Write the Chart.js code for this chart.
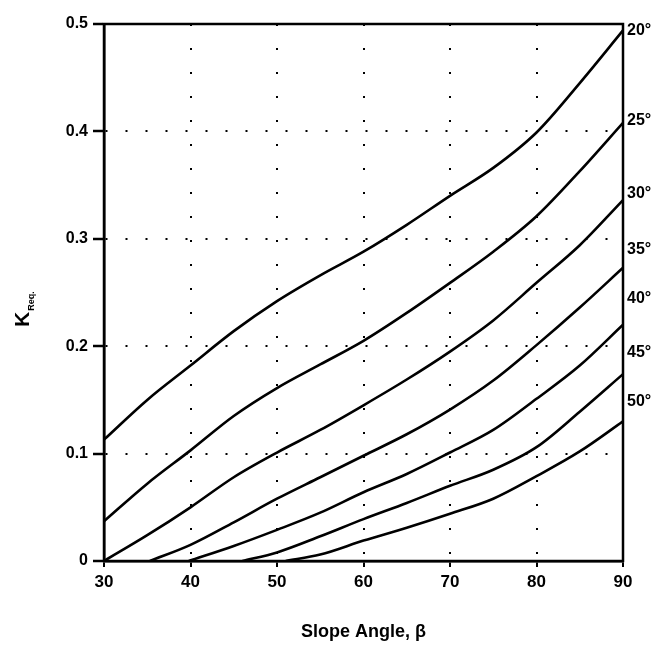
<!DOCTYPE html>
<html>
<head>
<meta charset="utf-8">
<script src="https://cdn.jsdelivr.net/npm/chart.js@4"></script>
<style>
  html, body { margin: 0; padding: 0; background: #fff; }
  #wrap { width: 663px; height: 649px; }
</style>
</head>
<body>
<div id="wrap"><canvas id="chart" width="663" height="649"></canvas></div>
<script>
// Friction angle of each curve
const frictionAngles = [20, 25, 30, 35, 40, 45, 50]

// Slope angle (x) for the curves that start on the left axis
const slopeAngles = [30, 35, 40, 45, 50, 55, 60, 65, 70, 75, 80, 85, 90]
const kReq20 = [0.113, 0.150, 0.182, 0.214, 0.242, 0.266, 0.288, 0.313, 0.340, 0.366, 0.399, 0.445, 0.494]
const kReq25 = [0.037, 0.072, 0.103, 0.135, 0.161, 0.183, 0.205, 0.231, 0.259, 0.288, 0.321, 0.363, 0.408]
const kReq30 = [0.000, 0.024, 0.050, 0.078, 0.101, 0.122, 0.145, 0.169, 0.195, 0.224, 0.259, 0.294, 0.336]

// Curves that start further along the bottom axis
const angles35 = [35.3, 40, 45, 50, 55, 60, 65, 70, 75, 80, 85, 90]
const kReq35 = [0.000, 0.015, 0.036, 0.058, 0.078, 0.098, 0.118, 0.141, 0.168, 0.201, 0.236, 0.273]
const angles40 = [39.8, 45, 50, 55, 60, 65, 70, 75, 80, 85, 90]
const kReq40 = [0.000, 0.014, 0.029, 0.045, 0.064, 0.081, 0.101, 0.122, 0.151, 0.182, 0.220]
const angles45 = [46, 50, 55, 60, 65, 70, 75, 80, 85, 90]
const kReq45 = [0.000, 0.008, 0.023, 0.039, 0.054, 0.070, 0.085, 0.106, 0.139, 0.174]
const angles50 = [51, 55, 60, 65, 70, 75, 80, 85, 90]
const kReq50 = [0.000, 0.006, 0.019, 0.031, 0.044, 0.058, 0.079, 0.102, 0.130]

// Height (K) of each curve label on the right edge
const labelK = [0.494, 0.410, 0.342, 0.290, 0.244, 0.194, 0.148]

const FONT = '"Liberation Sans", Arial, sans-serif'

const toPoints = (xs, ys) => xs.map((x, i) => ({ x: x, y: ys[i] }))

const curves = [
  toPoints(slopeAngles, kReq20),
  toPoints(slopeAngles, kReq25),
  toPoints(slopeAngles, kReq30),
  toPoints(angles35, kReq35),
  toPoints(angles40, kReq40),
  toPoints(angles45, kReq45),
  toPoints(angles50, kReq50)
]

// frame, curve labels and the K_Req. title
const extras = {
  id: 'extras',
  afterDatasetsDraw(chart) {
    const { ctx, chartArea: a, scales: { y } } = chart
    ctx.save()
    ctx.strokeStyle = '#000'
    ctx.lineWidth = 2.5
    ctx.strokeRect(a.left, a.top, a.width, a.height)

    ctx.fillStyle = '#000'
    ctx.font = 'bold 16px ' + FONT
    ctx.textAlign = 'left'
    ctx.textBaseline = 'middle'
    frictionAngles.forEach((f, i) => {
      ctx.fillText(f + '°', a.right + 4, y.getPixelForValue(labelK[i]))
    })

    // rotated y title with subscript
    ctx.translate(29, 327)
    ctx.rotate(-Math.PI / 2)
    ctx.textBaseline = 'alphabetic'
    ctx.font = 'bold 21px ' + FONT
    ctx.fillText('K', 0, 0)
    const kw = ctx.measureText('K').width
    ctx.font = 'bold 9px ' + FONT
    ctx.fillText('Req.', kw + 1, 5)
    ctx.restore()
  }
}

new Chart(document.getElementById('chart'), {
  type: 'line',
  data: {
    datasets: curves.map((pts, i) => ({
      label: frictionAngles[i] + '°',
      data: pts,
      borderColor: '#000',
      borderWidth: 2.6,
      pointRadius: 0,
      fill: false,
      cubicInterpolationMode: 'monotone'
    }))
  },
  options: {
    responsive: false,
    animation: false,
    layout: { padding: { top: 24, right: 40, left: 0, bottom: 6 } },
    plugins: {
      legend: { display: false },
      tooltip: { enabled: false }
    },
    scales: {
      x: {
        type: 'linear',
        min: 30,
        max: 90,
        ticks: { stepSize: 10, color: '#000', padding: 5, font: { size: 17, weight: 'bold', family: FONT } },
        grid: { color: '#000', lineWidth: 2, tickLength: 6, tickColor: '#000', tickWidth: 2 },
        border: { display: true, color: '#000', width: 2.5, dash: [2, 22] },
        title: { display: true, text: 'Slope Angle, β', color: '#000', padding: { top: 24, bottom: 0 }, font: { size: 18, weight: 'bold', family: FONT } }
      },
      y: {
        min: 0,
        max: 0.5,
        ticks: { stepSize: 0.1, color: '#000', padding: 5, font: { size: 16, weight: 'bold', family: FONT } },
        grid: { color: '#000', lineWidth: 2, tickLength: 11, tickColor: '#000', tickWidth: 2.5 },
        border: { display: true, color: '#000', width: 2.5, dash: [2, 18] },
        afterFit: (s) => { s.width = 104 }
      }
    }
  },
  plugins: [extras]
})
</script>
</body>
</html>
